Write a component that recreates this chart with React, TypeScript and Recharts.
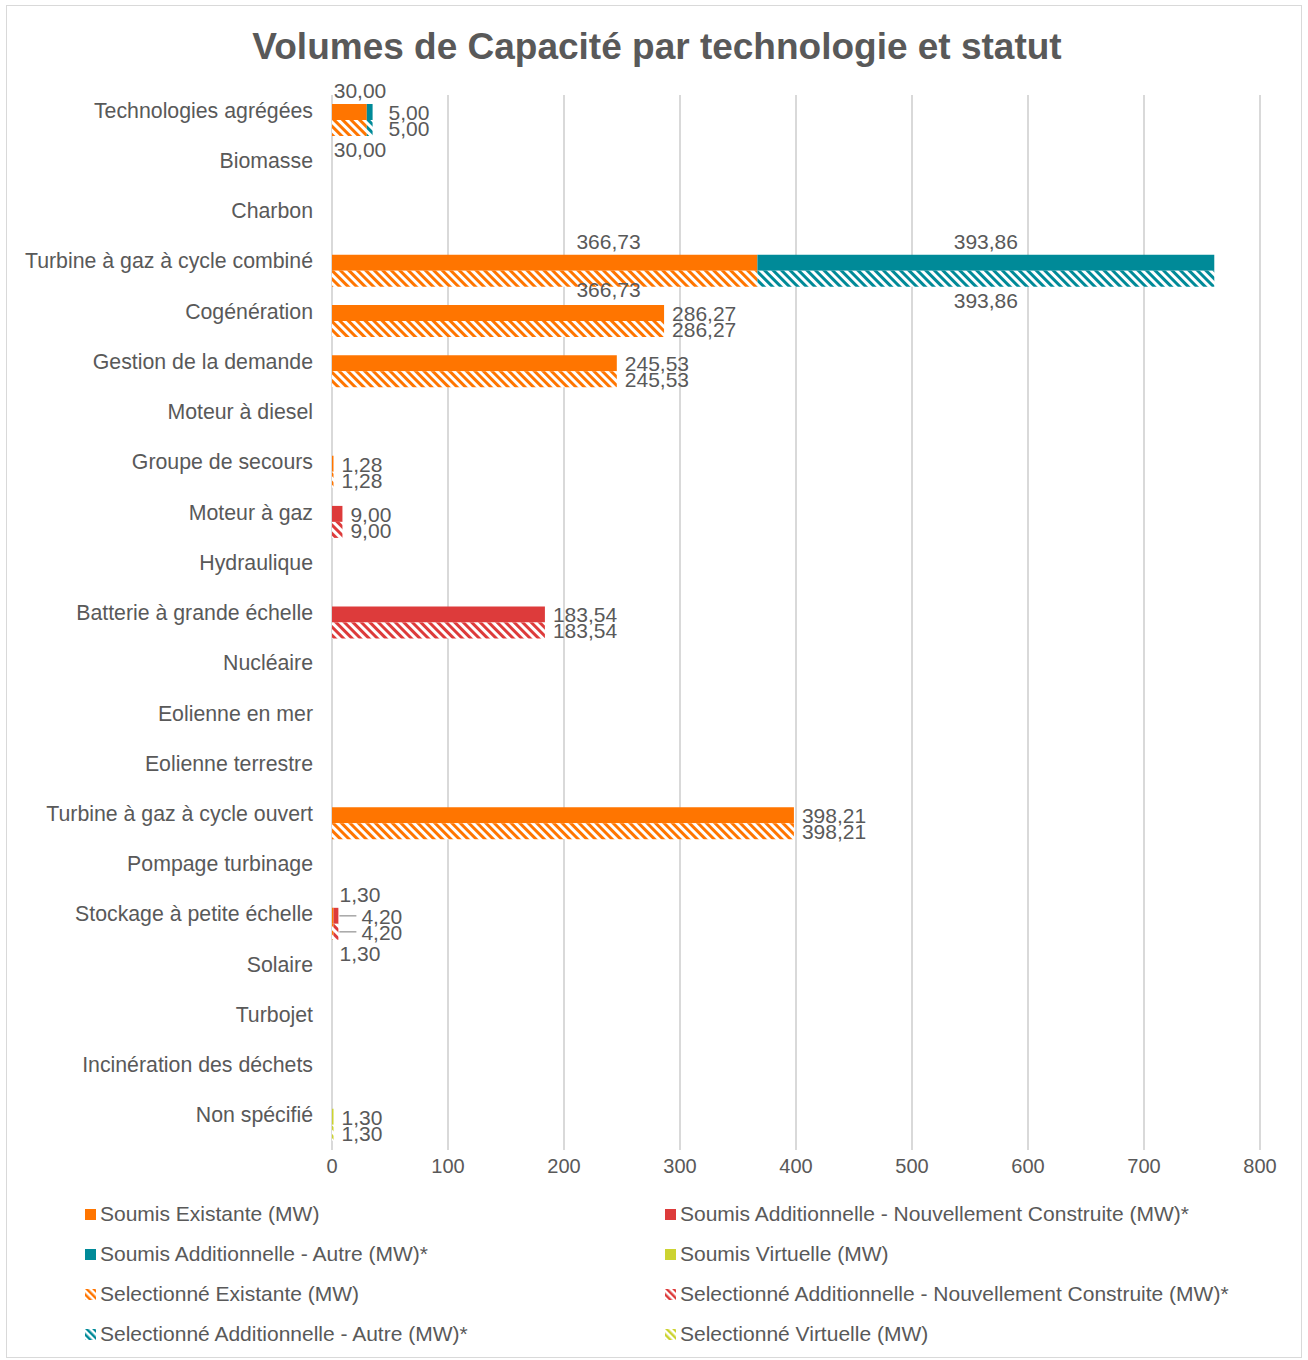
import React from 'react'
import { BarChart, Bar, XAxis, YAxis, CartesianGrid, LabelList } from 'recharts'

const categories = [
  'Technologies agrégées',
  'Biomasse',
  'Charbon',
  'Turbine à gaz à cycle combiné',
  'Cogénération',
  'Gestion de la demande',
  'Moteur à diesel',
  'Groupe de secours',
  'Moteur à gaz',
  'Hydraulique',
  'Batterie à grande échelle',
  'Nucléaire',
  'Eolienne en mer',
  'Eolienne terrestre',
  'Turbine à gaz à cycle ouvert',
  'Pompage turbinage',
  'Stockage à petite échelle',
  'Solaire',
  'Turbojet',
  'Incinération des déchets',
  'Non spécifié',
]

const soumisExistante = [30, null, null, 366.73, 286.27, 245.53, null, 1.28, null, null, null, null, null, null, 398.21, null, 1.3, null, null, null, null]
const soumisNouvelle = [null, null, null, null, null, null, null, null, 9, null, 183.54, null, null, null, null, null, 4.2, null, null, null, null]
const soumisAutre = [5, null, null, 393.86, null, null, null, null, null, null, null, null, null, null, null, null, null, null, null, null, null]
const soumisVirtuelle = [null, null, null, null, null, null, null, null, null, null, null, null, null, null, null, null, null, null, null, null, 1.3]

const selExistante = [30, null, null, 366.73, 286.27, 245.53, null, 1.28, null, null, null, null, null, null, 398.21, null, 1.3, null, null, null, null]
const selNouvelle = [null, null, null, null, null, null, null, null, 9, null, 183.54, null, null, null, null, null, 4.2, null, null, null, null]
const selAutre = [5, null, null, 393.86, null, null, null, null, null, null, null, null, null, null, null, null, null, null, null, null, null]
const selVirtuelle = [null, null, null, null, null, null, null, null, null, null, null, null, null, null, null, null, null, null, null, null, 1.3]

const xTicks = [0, 100, 200, 300, 400, 500, 600, 700, 800]

const ORANGE = '#FF7500'
const RED = '#DD3B3B'
const TEAL = '#008A98'
const YELLOW = '#CCD331'
const TEXT = '#595959'
const FONT = '"Liberation Sans", Arial, sans-serif'

const data = categories.map((name, i) => ({
  name,
  sEx: soumisExistante[i],
  sNv: soumisNouvelle[i],
  sAu: soumisAutre[i],
  sVi: soumisVirtuelle[i],
  hEx: selExistante[i],
  hNv: selNouvelle[i],
  hAu: selAutre[i],
  hVi: selVirtuelle[i],
}))

const soumisKeys = ['sEx', 'sNv', 'sAu', 'sVi']
const selKeys = ['hEx', 'hNv', 'hAu', 'hVi']

const series = [
  { key: 'sEx', name: 'Soumis Existante (MW)', color: ORANGE, hatch: false, stack: 'soumis' },
  { key: 'sNv', name: 'Soumis Additionnelle - Nouvellement Construite (MW)*', color: RED, hatch: false, stack: 'soumis' },
  { key: 'sAu', name: 'Soumis Additionnelle - Autre (MW)*', color: TEAL, hatch: false, stack: 'soumis' },
  { key: 'sVi', name: 'Soumis Virtuelle (MW)', color: YELLOW, hatch: false, stack: 'soumis' },
  { key: 'hEx', name: 'Selectionné Existante (MW)', color: ORANGE, hatch: true, stack: 'sel' },
  { key: 'hNv', name: 'Selectionné Additionnelle - Nouvellement Construite (MW)*', color: RED, hatch: true, stack: 'sel' },
  { key: 'hAu', name: 'Selectionné Additionnelle - Autre (MW)*', color: TEAL, hatch: true, stack: 'sel' },
  { key: 'hVi', name: 'Selectionné Virtuelle (MW)', color: YELLOW, hatch: true, stack: 'sel' },
]

const PLOT_RIGHT = 1260
const PX_PER_MW = 928 / 800

function fmt(v: number) {
  return v.toFixed(2).replace('.', ',')
}

function makeLabel(key: string, selected: boolean) {
  // LabelList index only counts the non-empty entries of the series
  const rows = data.map((d: any, i) => (d[key] != null ? i : -1)).filter((i) => i >= 0)
  return (props: any) => {
    const { x, y, width, height, value, index } = props
    if (value == null || value === 0) return null
    const keys = selected ? selKeys : soumisKeys
    const row: any = data[rows[index]] ?? {}
    const pos = keys.indexOf(key)
    const isLast = keys.slice(pos + 1).every((k) => !row[k])
    const prev = keys.slice(0, pos).reduce((a, k) => a + (row[k] || 0), 0)
    const end = x + width
    const text = fmt(value)
    if (isLast && end + 80 < PLOT_RIGHT) {
      const tinyPrev = prev > 0 && prev * PX_PER_MW < 10
      const off = tinyPrev ? 23 : prev > 0 ? 16 : 8
      return (
        <g>
          {tinyPrev && (
            <line x1={end + 1} x2={end + off - 5} y1={y + height / 2} y2={y + height / 2} stroke="#A6A6A6" strokeWidth={1.5} />
          )}
          <text x={end + off} y={y + height / 2} dy={8} fill={TEXT} fontSize={21} fontFamily={FONT}>
            {text}
          </text>
        </g>
      )
    }
    // labels of inner segments sit above (submitted) or below (selected) the bar
    const cx = isLast ? x + width / 2 : Math.max(x + width * 0.65, x + 28)
    const ty = selected ? y + height + (isLast || width < 100 ? 21 : 10) : y - 6
    return (
      <text x={cx} y={ty} textAnchor="middle" fill={TEXT} fontSize={21} fontFamily={FONT}>
        {text}
      </text>
    )
  }
}

function Swatch({ color, hatch }: { color: string; hatch: boolean }) {
  const id = 'sw-' + color.slice(1)
  return (
    <svg width={11} height={11} style={{ marginRight: 4, flexShrink: 0 }}>
      <defs>
        <pattern id={id} patternUnits="userSpaceOnUse" width={5} height={5} patternTransform="rotate(-45)">
          <rect width={5} height={5} fill="#fff" />
          <rect width={2.5} height={5} fill={color} />
        </pattern>
      </defs>
      <rect width={11} height={11} fill={hatch ? `url(#${id})` : color} />
    </svg>
  )
}

export default function App() {
  return (
    <div style={{ position: 'absolute', left: 0, top: 0, width: 1308, height: 1360, background: '#fff', fontFamily: FONT }}>
      <div style={{ position: 'absolute', left: 6, top: 5, width: 1294, height: 1351, border: '1px solid #D9D9D9' }} />
      <div style={{ position: 'absolute', left: 0, top: 26, width: 1314, textAlign: 'center', color: TEXT, fontSize: 37, fontWeight: 'bold' }}>
        Volumes de Capacité par technologie et statut
      </div>
      <div style={{ position: 'absolute', left: 0, top: 0 }}>
        <BarChart
          width={1308}
          height={1360}
          data={data}
          layout="vertical"
          margin={{ top: 95, right: 48, left: 0, bottom: 180 }}
          barSize={16}
          barGap={0}
        >
          <defs>
            {[ORANGE, RED, TEAL, YELLOW].map((c) => (
              <pattern key={c} id={'hatch-' + c.slice(1)} patternUnits="userSpaceOnUse" width={6} height={6} patternTransform="rotate(-45)">
                <rect width={6} height={6} fill="#fff" />
                <rect width={3} height={6} fill={c} />
              </pattern>
            ))}
          </defs>
          <CartesianGrid horizontal={false} stroke="#D9D9D9" strokeWidth={2} />
          <XAxis
            type="number"
            domain={[0, 800]}
            ticks={xTicks}
            axisLine={false}
            tickLine={false}
            tickSize={0}
            tickMargin={9}
            height={30}
            tick={{ fontSize: 20, fill: TEXT, fontFamily: FONT }}
          />
          <YAxis
            type="category"
            dataKey="name"
            width={332}
            axisLine={false}
            tickLine={false}
            tickSize={0}
            tickMargin={19}
            interval={0}
            tick={{ fontSize: 21.3, fill: TEXT, fontFamily: FONT, dy: -10 }}
          />
          {series.map((s) => (
            <Bar
              key={s.key}
              dataKey={s.key}
              name={s.name}
              stackId={s.stack}
              fill={s.hatch ? `url(#hatch-${s.color.slice(1)})` : s.color}
              isAnimationActive={false}
            >
              <LabelList dataKey={s.key} content={makeLabel(s.key, s.hatch)} />
            </Bar>
          ))}
        </BarChart>
      </div>
      <div
        style={{
          position: 'absolute',
          left: 85,
          top: 1201,
          width: 1200,
          display: 'grid',
          gridTemplateColumns: '580px 620px',
          rowGap: 14,
          color: TEXT,
          fontSize: 21,
        }}
      >
        {series.map((s) => (
          <div key={s.key} style={{ display: 'flex', alignItems: 'center', height: 26, whiteSpace: 'nowrap' }}>
            <Swatch color={s.color} hatch={s.hatch} />
            <span>{s.name}</span>
          </div>
        ))}
      </div>
    </div>
  )
}
